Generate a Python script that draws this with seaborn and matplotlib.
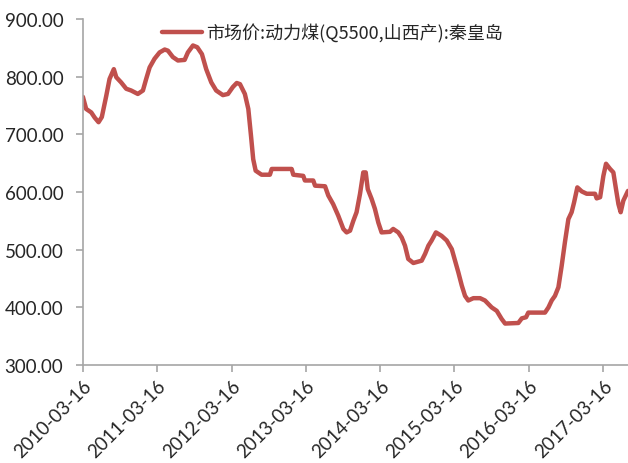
import matplotlib
matplotlib.use("Agg")
import matplotlib.pyplot as plt
import seaborn as sns
import pandas as pd

dates = [
    "2010-03-16", "2010-04-01", "2010-04-26", "2010-05-13", "2010-06-01", "2010-06-17",
    "2010-07-09", "2010-07-25", "2010-08-15", "2010-08-27", "2010-09-20", "2010-10-15",
    "2010-11-08", "2010-12-11", "2011-01-05", "2011-01-21", "2011-02-07", "2011-03-03",
    "2011-03-28", "2011-04-22", "2011-05-08", "2011-06-01", "2011-06-26", "2011-07-29",
    "2011-08-14", "2011-09-08", "2011-09-29", "2011-10-22", "2011-11-12", "2011-12-07",
    "2011-12-31", "2012-02-02", "2012-02-27", "2012-03-22", "2012-04-10", "2012-04-26",
    "2012-05-20", "2012-06-06", "2012-06-19", "2012-06-30", "2012-07-12", "2012-08-10",
    "2012-09-20", "2012-09-29", "2013-01-05", "2013-01-13", "2013-03-03", "2013-03-11",
    "2013-04-21", "2013-04-30", "2013-06-18", "2013-07-04", "2013-07-28", "2013-08-22",
    "2013-09-16", "2013-10-02", "2013-10-19", "2013-11-04", "2013-11-20", "2013-12-07",
    "2013-12-23", "2014-01-04", "2014-01-14", "2014-02-02", "2014-02-18", "2014-03-07",
    "2014-03-23", "2014-05-03", "2014-05-19", "2014-06-13", "2014-06-30", "2014-07-16",
    "2014-08-01", "2014-08-26", "2014-10-06", "2014-10-23", "2014-11-08", "2014-11-24",
    "2014-12-15", "2015-01-12", "2015-02-06", "2015-03-03", "2015-03-19", "2015-04-04",
    "2015-04-21", "2015-05-07", "2015-05-23", "2015-06-17", "2015-07-20", "2015-08-13",
    "2015-09-15", "2015-10-10", "2015-11-03", "2015-11-20", "2016-01-24", "2016-02-10",
    "2016-03-02", "2016-03-13", "2016-06-03", "2016-06-20", "2016-07-06", "2016-07-22",
    "2016-08-08", "2016-08-24", "2016-09-09", "2016-09-26", "2016-10-12", "2016-10-24",
    "2016-11-09", "2016-12-01", "2016-12-25", "2017-02-04", "2017-02-12", "2017-03-01",
    "2017-03-17", "2017-03-30", "2017-04-19", "2017-05-05", "2017-05-18", "2017-05-30",
    "2017-06-10", "2017-06-23", "2017-07-16",
]
prices = [
    765, 744, 738, 729, 721, 730,
    767, 796, 813, 799, 790, 779,
    776, 770, 776, 796, 816, 831,
    842, 847, 845, 834, 828, 829,
    842, 854, 851, 839, 813, 790,
    776, 768, 770, 782, 789, 787,
    770, 744, 698, 657, 637, 630,
    630, 640, 640, 630, 628, 620,
    620, 611, 610, 594, 579, 559,
    536, 530, 533, 550, 565, 597,
    634, 634, 605, 588, 571, 547,
    530, 531, 536, 530, 521, 507,
    484, 477, 481, 493, 507, 516,
    530, 524, 516, 501, 481, 461,
    438, 420, 412, 416, 416, 412,
    400, 394, 380, 372, 373, 381,
    383, 391, 391, 400, 412, 420,
    435, 472, 513, 553, 565, 582,
    608, 601, 597, 597, 589, 591,
    628, 649, 640, 634, 605, 579,
    565, 585, 602,
]
tick_dates = ["2010-03-16", "2011-03-16", "2012-03-16", "2013-03-16",
              "2014-03-16", "2015-03-16", "2016-03-16", "2017-03-16"]
y_ticks = [300, 400, 500, 600, 700, 800, 900]
series_name = "市场价:动力煤(Q5500,山西产):秦皇岛"

df = pd.DataFrame({"date": pd.to_datetime(dates), "price": prices})

sns.set_style("white")
plt.rcParams["font.family"] = ["Lato", "Noto Sans CJK SC", "DejaVu Sans"]

fig = plt.figure(figsize=(6.28, 4.64), dpi=100)
ax = fig.add_axes([0.132, 0.211, 0.868, 0.746])

sns.lineplot(data=df, x="date", y="price", ax=ax, color="#C0504D",
             linewidth=3.2, label=series_name)

ax.set_ylim(300, 900)
ax.set_yticks(y_ticks)
ax.set_yticklabels([f"{v:.2f}" for v in y_ticks], fontsize=13.5)
ax.set_xlim(pd.Timestamp(dates[0]), pd.Timestamp(dates[-1]))
tdt = pd.to_datetime(tick_dates)
ax.set_xticks(tdt)
ax.set_xticklabels(tick_dates, rotation=45, ha="right", rotation_mode="anchor", fontsize=13.5)
ax.set_xlabel("")
ax.set_ylabel("")

for s in ["top", "right"]:
    ax.spines[s].set_visible(False)
for s in ["left", "bottom"]:
    ax.spines[s].set_color("#A6A6A6")
    ax.spines[s].set_linewidth(1.2)
ax.tick_params(axis="both", which="major", direction="out", length=5,
               color="#A6A6A6", width=1.2, left=True, bottom=True)
ax.tick_params(axis="y", pad=9)
ax.tick_params(axis="x", pad=3)

leg = ax.legend(loc="upper center", bbox_to_anchor=(0.458, 1.035), frameon=False,
                handlelength=2.2, handletextpad=0.2,
                prop={"family": ["Noto Sans CJK SC"], "size": 13})

fig.savefig("out.png", dpi=100)
